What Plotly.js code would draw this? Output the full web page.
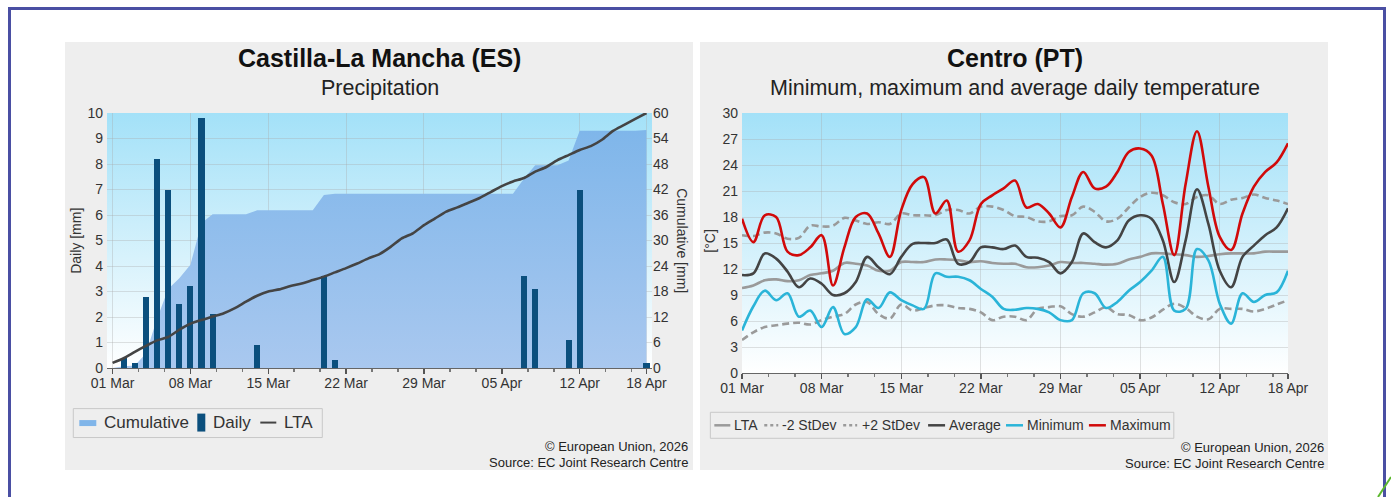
<!DOCTYPE html>
<html>
<head>
<meta charset="utf-8">
<script src="https://cdn.plot.ly/plotly-3.0.1.min.js"></script>
<style>
  html, body { margin:0; padding:0; background:#ffffff; width:1391px; height:497px; overflow:hidden; }
  #frame { position:absolute; left:8px; top:7px; width:1372px; height:520px; border:3px solid #4a4fa3; border-bottom:none; }
  #c1 { position:absolute; left:65px; top:42px; width:628px; height:428px; }
  #c2 { position:absolute; left:700px; top:42px; width:628px; height:428px; }
  #green { position:absolute; left:1370px; top:470px; }
</style>
</head>
<body>
<div id="frame"></div>
<div id="c1"></div>
<div id="c2"></div>
<svg id="green" width="21" height="27"><line x1="8" y1="27" x2="21" y2="7" stroke="#5cb82e" stroke-width="2"/></svg>
<script>
// ---------- DATA ----------
const dates = ['2026-03-01','2026-03-02','2026-03-03','2026-03-04','2026-03-05','2026-03-06','2026-03-07','2026-03-08','2026-03-09','2026-03-10',
  '2026-03-11','2026-03-12','2026-03-13','2026-03-14','2026-03-15','2026-03-16','2026-03-17','2026-03-18','2026-03-19','2026-03-20',
  '2026-03-21','2026-03-22','2026-03-23','2026-03-24','2026-03-25','2026-03-26','2026-03-27','2026-03-28','2026-03-29','2026-03-30',
  '2026-03-31','2026-04-01','2026-04-02','2026-04-03','2026-04-04','2026-04-05','2026-04-06','2026-04-07','2026-04-08','2026-04-09',
  '2026-04-10','2026-04-11','2026-04-12','2026-04-13','2026-04-14','2026-04-15','2026-04-16','2026-04-17','2026-04-18'];

const tickDates  = ['2026-03-01','2026-03-08','2026-03-15','2026-03-22','2026-03-29','2026-04-05','2026-04-12','2026-04-18'];
const tickLabels = ['01 Mar','08 Mar','15 Mar','22 Mar','29 Mar','05 Apr','12 Apr','18 Apr'];

// Precipitation (Castilla-La Mancha)
const precipNames = ['Cumulative','Daily','LTA'];
const precipDaily = [0,0.4,0.2,2.8,8.2,7.0,2.5,3.2,9.8,2.1,
  0,0,0,0.9,0,0,0,0,0,3.6,
  0.3,0,0,0,0,0,0,0,0,0,
  0,0,0,0,0,0,0,3.6,3.1,0,
  0,1.1,7.0,0,0,0,0,0,0.2];
const precipCumulative = [0,0.4,0.6,3.4,11.6,18.6,21.1,24.3,34.1,36.2,
  36.2,36.2,36.2,37.1,37.1,37.1,37.1,37.1,37.1,40.7,
  41.0,41.0,41.0,41.0,41.0,41.0,41.0,41.0,41.0,41.0,
  41.0,41.0,41.0,41.0,41.0,41.0,41.0,44.6,47.7,47.7,
  47.7,48.8,55.8,55.8,55.8,55.8,55.8,55.8,56.0];
const precipLTA = [1.2,2.3,3.8,5.2,6.5,7.3,9.0,10.4,11.3,12.1,
  12.9,14.1,15.6,17.0,18.0,18.5,19.3,19.9,20.7,21.5,
  22.5,23.5,24.6,25.8,26.8,28.5,30.5,31.7,33.6,35.2,
  36.8,37.8,38.9,40.0,41.4,42.8,43.9,44.7,46.2,47.3,
  48.9,50.1,51.3,52.2,53.7,55.8,57.2,58.6,60.0];

// Temperature (Centro PT)
const tempNames = ['LTA','-2 StDev','+2 StDev','Average','Minimum','Maximum'];
const tempLTA = [9.8,10.1,10.7,10.8,10.6,10.7,11.3,11.5,11.8,12.7,
  12.6,12.4,11.8,11.8,12.8,12.8,12.8,13.1,13.1,13.0,
  12.8,12.9,12.7,12.6,12.6,12.2,12.2,12.4,12.8,12.7,
  12.7,12.6,12.5,12.6,13.1,13.4,13.8,13.8,13.7,13.6,
  13.4,13.5,13.7,13.8,13.8,13.8,14.0,14.0,14.0];
const tempMinus2SD = [3.8,4.7,5.3,5.5,5.7,5.8,5.6,6.1,6.5,6.8,
  7.9,8.2,6.8,6.3,7.9,7.2,7.5,7.8,7.8,7.5,
  7.4,7.0,6.1,6.5,6.5,6.1,7.4,7.6,7.7,6.8,
  6.5,7.0,7.6,6.8,6.7,6.1,6.4,7.3,8.0,7.5,
  6.5,6.2,7.4,7.4,7.4,7.1,7.4,7.9,8.4];
const tempPlus2SD = [15.9,15.8,16.2,16.1,15.5,15.6,17.0,16.9,17.0,17.9,
  17.6,17.2,17.4,17.2,18.4,18.2,18.2,18.2,18.8,18.8,
  18.4,19.2,19.2,18.8,18.1,18.0,17.5,17.5,18.1,18.2,
  19.2,18.6,17.5,17.8,19.1,20.3,20.8,20.5,19.7,19.5,
  20.3,20.5,19.5,20.0,20.2,20.6,20.2,19.9,19.5];
const tempAvg = [11.3,11.5,13.8,13.2,11.7,9.9,10.9,10.3,9.0,9.2,
  10.5,13.4,12.2,11.4,13.4,14.9,15.0,15.0,15.4,12.6,
  12.8,14.5,14.5,14.3,14.7,13.4,13.3,12.8,11.5,12.8,
  16.1,15.1,14.5,15.3,17.6,18.2,17.8,15.3,10.5,15.3,
  21.2,17.2,11.8,9.9,13.4,14.7,15.9,16.8,19.0];
const tempMin = [4.9,7.7,9.5,8.4,9.2,6.5,7.2,5.3,7.6,4.5,
  5.3,8.5,7.5,9.3,8.4,7.8,7.4,11.5,11.1,11.1,
  10.7,9.7,8.8,7.4,7.3,7.5,7.4,7.0,6.1,6.1,
  9.2,9.2,7.5,8.2,9.5,10.5,11.8,13.4,7.2,7.4,
  14.3,13.0,8.0,5.7,9.2,8.2,9.0,9.3,11.8];
const tempMax = [17.8,15.1,18.2,18.0,14.0,13.6,14.5,15.9,10.1,14.5,
  18.0,18.4,16.1,13.4,18.8,21.8,22.6,18.4,19.9,14.0,
  15.3,19.5,20.5,21.3,22.2,19.1,19.5,18.4,16.8,20.3,
  23.2,21.3,21.5,23.2,25.5,25.9,25.1,19.5,13.6,21.8,
  27.9,21.5,15.7,14.2,18.4,21.5,23.2,24.3,26.5];

// ---------- STYLE ----------
const FONT = '"Liberation Sans", Arial, sans-serif';
const TXT = '#333333';
const DAY = 86400000;
const gradSvg = "<svg xmlns='http://www.w3.org/2000/svg' width='100' height='100' preserveAspectRatio='none'>" +
  "<defs><linearGradient id='g' x1='0' y1='0' x2='0' y2='1'>" +
  "<stop offset='0' stop-color='#a3e1f8'/><stop offset='1' stop-color='#ffffff'/></linearGradient></defs>" +
  "<rect width='100' height='100' fill='url(#g)'/></svg>";
const gradSrc = 'data:image/svg+xml;charset=utf-8,' + encodeURIComponent(gradSvg);
const bgImage = {source: gradSrc, xref:'paper', yref:'paper', x:0, y:1, sizex:1, sizey:1,
  sizing:'stretch', xanchor:'left', yanchor:'top', layer:'below'};
const grid = 'rgba(170,170,170,0.35)';

const COL = {cum:'#80b5e9', daily:'#0b4f7d', plta:'#444444',
  lta:'#9a9a9a', sd:'#9a9a9a', avg:'#444444', min:'#2ab4d8', max:'#d10a0a'};

function xAxis(range) {
  return {
    type:'date', range: range, tickmode:'array', tickvals: tickDates, ticktext: tickLabels,
    showgrid:true, gridcolor: grid, gridwidth:1, automargin:false,
    showline:true, linecolor:'#666', linewidth:1,
    ticks:'outside', ticklen:5, tickcolor:'#555', tickwidth:1.5, ticklabelstandoff:-3,
    minor:{ticks:'outside', ticklen:3, tickcolor:'#777', dtick: 7*DAY/3, tick0:'2026-03-01', showgrid:false},
    tickfont:{family:FONT, size:14, color:TXT}, zeroline:false, fixedrange:true
  };
}
// page-pixel -> paper coordinates for a plot area
function mapper(left, top, w, h) {
  return {x: px => (px - left) / w, y: py => (top + h - py) / h};
}
function ann(text, x, y, size, opts) {
  return Object.assign({text:text, xref:'paper', yref:'paper', x:x, y:y, showarrow:false,
    font:{family:FONT, size:size, color:'#222'}, xanchor:'center', yanchor:'middle'}, opts||{});
}
function legText(M, text, px, py, size) {
  return ann(text, M.x(px), M.y(py), size, {xanchor:'left', font:{family:FONT, size:size, color:'#333'}});
}
function legLine(M, x0, x1, py, color, width, dash) {
  return {type:'line', xref:'paper', yref:'paper', x0:M.x(x0), x1:M.x(x1), y0:M.y(py), y1:M.y(py),
    line:{color:color, width:width, dash:dash||'solid'}};
}
function legRect(M, x0, x1, y0, y1, fill, lineColor) {
  return {type:'rect', xref:'paper', yref:'paper', x0:M.x(x0), x1:M.x(x1), y0:M.y(y1), y1:M.y(y0),
    fillcolor:fill, line:{color:lineColor||'rgba(0,0,0,0)', width:1}};
}

// ---------- CHART 1: precipitation ----------
const M1 = mapper(106.7, 112.7, 545, 255.6);
const tr1 = [
  {type:'scatter', mode:'lines', name:precipNames[0], x: dates, y: precipCumulative, yaxis:'y',
   fill:'tozeroy', line:{width:0, color:COL.cum},
   fillgradient:{type:'vertical', colorscale:[[0,'#a9c8ef'],[1,'#7fb6ea']]}},
  {type:'bar', name:precipNames[1], x: dates, y: precipDaily, yaxis:'y2', width: 0.55*DAY,
   marker:{color:COL.daily, line:{width:0}}},
  {type:'scatter', mode:'lines', name:precipNames[2], x: dates, y: precipLTA, yaxis:'y3',
   line:{color:COL.plta, width:2.6, shape:'spline', smoothing:0.6}}
];
const L1 = {
  width:628, height:428, margin:{l:41.7, r:41.3, t:70.7, b:101.7},
  paper_bgcolor:'#eeeeee', plot_bgcolor:'rgba(0,0,0,0)',
  font:{family:FONT, color:TXT},
  xaxis: xAxis(['2026-02-28 12:00','2026-04-18 12:00']),
  yaxis:{range:[0,60], dtick:6, tick0:0, side:'right', showgrid:true, gridcolor:grid, zeroline:false,
    showline:false, tickfont:{family:FONT, size:14, color:TXT}, ticks:'', automargin:false, fixedrange:true},
  yaxis2:{range:[0,10], dtick:1, tick0:0, overlaying:'y', side:'left', showgrid:false, zeroline:false,
    showline:false, tickfont:{family:FONT, size:14, color:TXT}, ticks:'', ticklabelstandoff:3,
    automargin:false, fixedrange:true},
  yaxis3:{range:[0,60], overlaying:'y', side:'right', visible:false, showgrid:false, zeroline:false,
    automargin:false, fixedrange:true},
  bargap:0,
  images:[bgImage],
  showlegend:false,
  shapes:[
    legRect(M1, 73, 322, 409, 438, 'rgba(0,0,0,0)', '#c8c8c8'),
    legRect(M1, 79, 96, 420.5, 426.5, COL.cum),
    legRect(M1, 197, 205, 414, 432, COL.daily),
    legLine(M1, 260, 276, 423, COL.plta, 2)
  ],
  annotations:[
    ann('<b>Castilla-La Mancha (ES)</b>', 0.5, M1.y(58), 25, {font:{family:FONT, size:25, color:'#111'}}),
    ann('Precipitation', 0.5, M1.y(88), 21.5, {font:{family:FONT, size:21.5, color:'#222'}}),
    ann('Daily [mm]', M1.x(75), 0.5, 14, {textangle:-90, font:{family:FONT, size:14, color:TXT}}),
    ann('Cumulative [mm]', M1.x(682), 0.5, 14, {textangle:90, font:{family:FONT, size:14, color:TXT}}),
    legText(M1, precipNames[0], 102, 423, 17),
    legText(M1, precipNames[1], 211, 423, 17),
    legText(M1, precipNames[2], 282, 423, 17),
    ann('© European Union, 2026', M1.x(690), M1.y(447), 13, {xanchor:'right', font:{family:FONT, size:13, color:'#222'}}),
    ann('Source: EC Joint Research Centre', M1.x(690), M1.y(463), 13, {xanchor:'right', font:{family:FONT, size:13, color:'#222'}})
  ]
};

// ---------- CHART 2: temperature ----------
const M2 = mapper(741.7, 112.7, 546.6, 260);
function tline(name, y, color, dash) {
  return {type:'scatter', mode:'lines', name:name, x: dates, y: y,
    line:{color:color, width:2.6, shape:'spline', smoothing:1, dash: dash||'solid'}};
}
const tr2 = [
  tline(tempNames[0], tempLTA, COL.lta),
  tline(tempNames[1], tempMinus2SD, COL.sd, '7px,4px'),
  tline(tempNames[2], tempPlus2SD, COL.sd, '7px,4px'),
  tline(tempNames[3], tempAvg, COL.avg),
  tline(tempNames[4], tempMin, COL.min),
  tline(tempNames[5], tempMax, COL.max)
];
const LY = 425, LF = 14;
const L2 = {
  width:628, height:428, margin:{l:41.7, r:39.7, t:70.7, b:97.3},
  paper_bgcolor:'#eeeeee', plot_bgcolor:'rgba(0,0,0,0)',
  font:{family:FONT, color:TXT},
  xaxis: xAxis(['2026-03-01','2026-04-18']),
  yaxis:{range:[0,30], dtick:3, tick0:0, showgrid:true, gridcolor:grid, zeroline:false, showline:false,
    tickfont:{family:FONT, size:14, color:TXT}, ticks:'', ticklabelstandoff:3, automargin:false, fixedrange:true},
  images:[bgImage],
  showlegend:false,
  shapes:[
    legRect(M2, 710, 1174, 412, 438, 'rgba(0,0,0,0)', '#c8c8c8'),
    legLine(M2, 714, 730, LY, COL.lta, 2.5),
    legLine(M2, 764, 778, LY, COL.sd, 2.5, 'dot'),
    legLine(M2, 843, 857, LY, COL.sd, 2.5, 'dot'),
    legLine(M2, 928, 945, LY, COL.avg, 2.5),
    legLine(M2, 1006, 1023, LY, COL.min, 2.5),
    legLine(M2, 1089, 1106, LY, COL.max, 2.5)
  ],
  annotations:[
    ann('<b>Centro (PT)</b>', 0.5, M2.y(58), 25, {font:{family:FONT, size:25, color:'#111'}}),
    ann('Minimum, maximum and average daily temperature', 0.5, M2.y(88), 21.5, {font:{family:FONT, size:21.5, color:'#222'}}),
    ann('[°C]', M2.x(710), M2.y(240), 14, {textangle:-90, font:{family:FONT, size:14, color:TXT}}),
    legText(M2, tempNames[0], 732, LY, LF),
    legText(M2, tempNames[1], 780, LY, LF),
    legText(M2, tempNames[2], 860, LY, LF),
    legText(M2, tempNames[3], 947, LY, LF),
    legText(M2, tempNames[4], 1025, LY, LF),
    legText(M2, tempNames[5], 1108, LY, LF),
    ann('© European Union, 2026', M2.x(1326), M2.y(447), 13, {xanchor:'right', font:{family:FONT, size:13, color:'#222'}}),
    ann('Source: EC Joint Research Centre', M2.x(1326), M2.y(463), 13, {xanchor:'right', font:{family:FONT, size:13, color:'#222'}})
  ]
};

const cfg = {displayModeBar:false, staticPlot:true};
Plotly.newPlot('c1', tr1, L1, cfg);
Plotly.newPlot('c2', tr2, L2, cfg);
</script>
</body>
</html>
